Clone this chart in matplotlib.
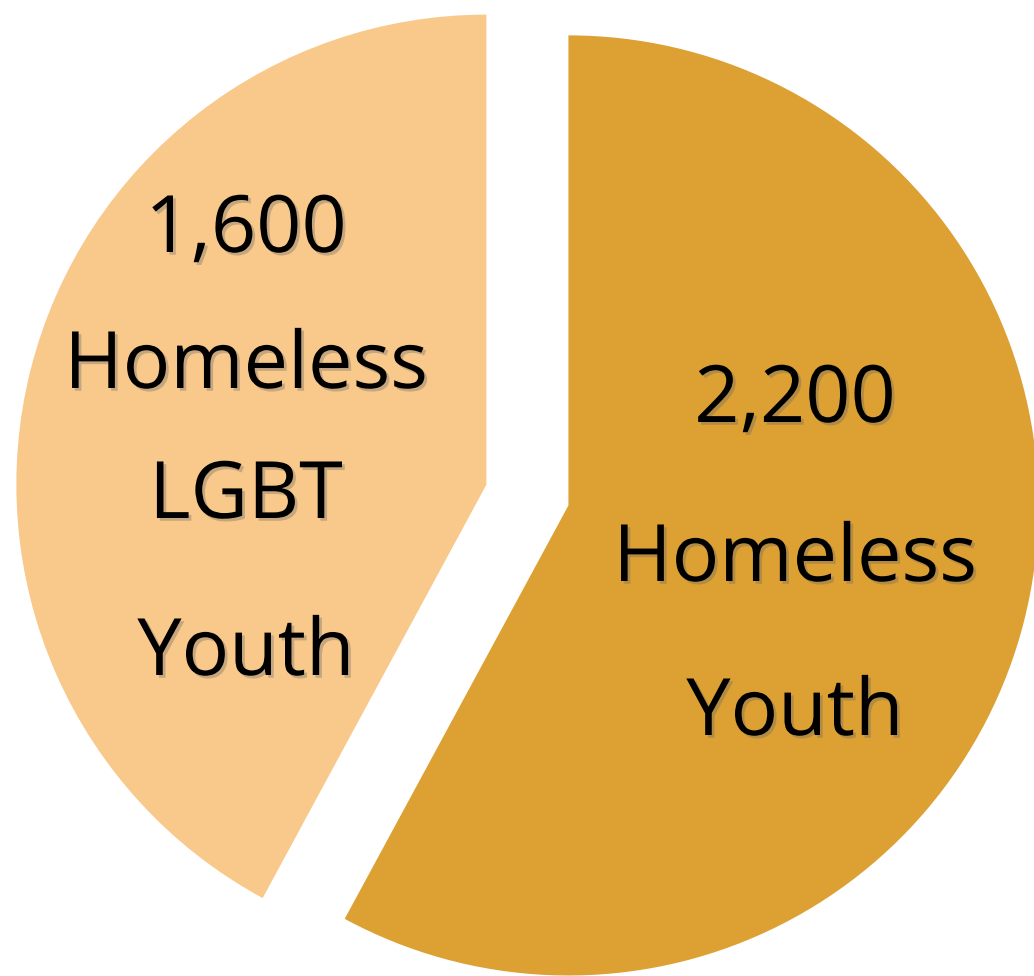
import matplotlib.pyplot as plt
import matplotlib.patheffects as pe

# slice values (clockwise from 12 o'clock)
values = [2200, 1600]
colors = ["#DCA033", "#F8C98B"]

# label lines per slice
label_big = ["2,200", "Homeless", "Youth"]
label_small = ["1,600", "Homeless", "LGBT", "Youth"]

W, H = 1034, 976
fig = plt.figure(figsize=(W / 100, H / 100), dpi=100)
ax = fig.add_axes([0, 0, 1, 1])

ax.pie(values, colors=colors, startangle=90, counterclock=False,
       explode=[0.09, 0.09], radius=1.0,
       wedgeprops=dict(linewidth=0))
ax.set_xlim(-1.122, 1.0777)
ax.set_ylim(-1.023, 1.053)
ax.set_aspect("equal")
ax.axis("off")

shadow = [pe.SimplePatchShadow(offset=(2, -2), shadow_rgbFace="#666666", alpha=0.35),
          pe.Normal()]


def put_lines(lines, xc, baselines):
    # place each text line at a pixel position (y measured from the top)
    for txt, yb in zip(lines, baselines):
        fig.text(xc / W, 1 - yb / H, txt, ha="center", va="baseline",
                 fontsize=57, family="Open Sans", color="black",
                 path_effects=shadow)


put_lines(label_small, 246, [252, 388, 518, 675])
put_lines(label_big, 795, [422, 581, 735])

fig.savefig("out.png", dpi=100)
